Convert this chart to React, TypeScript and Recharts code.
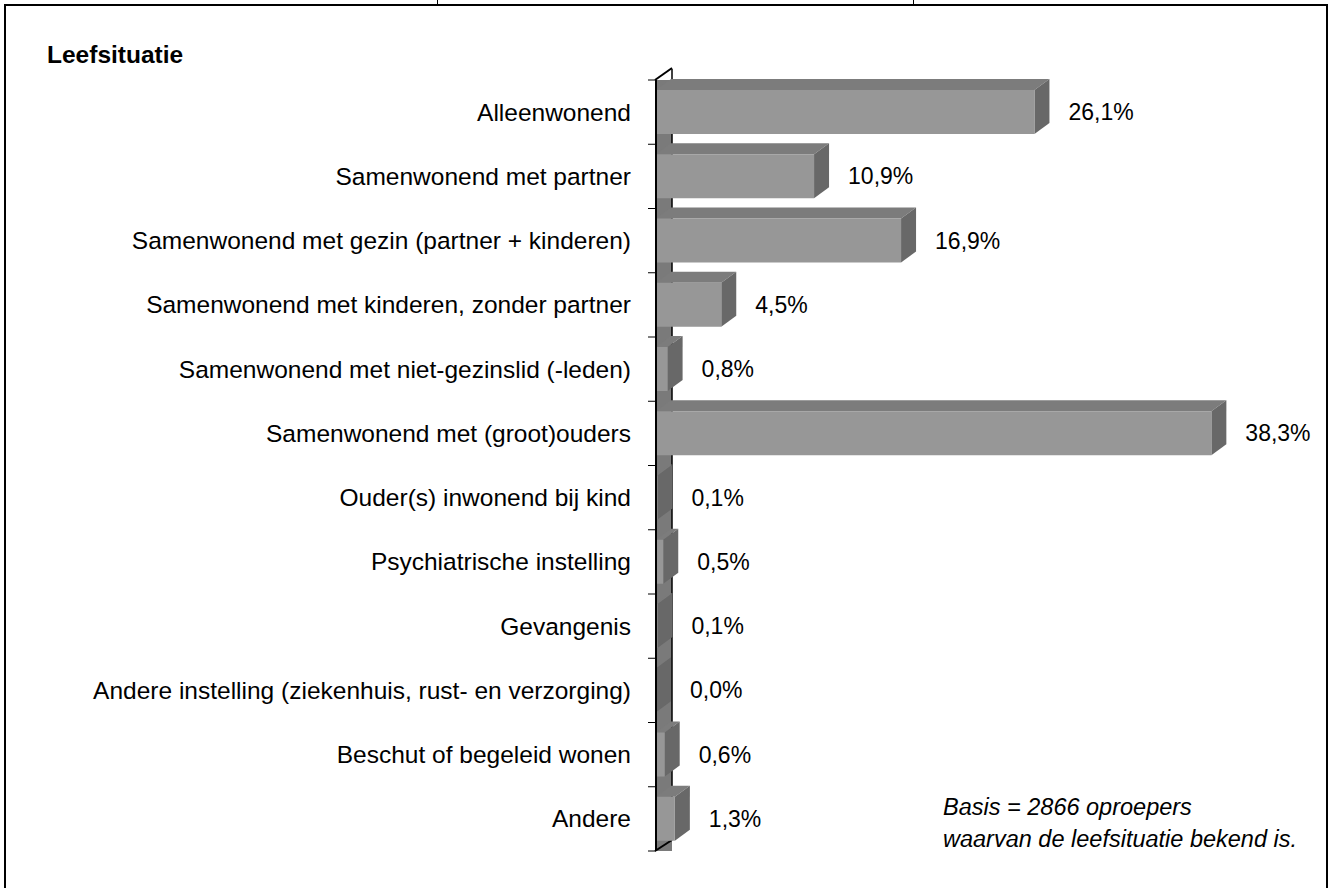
import React from "react";
import { BarChart, Bar, XAxis, YAxis, LabelList } from "recharts";

// Leefsituatie van oproepers (percentages)
const categories = [
  "Alleenwonend",
  "Samenwonend met partner",
  "Samenwonend met gezin (partner + kinderen)",
  "Samenwonend met kinderen, zonder partner",
  "Samenwonend met niet-gezinslid (-leden)",
  "Samenwonend met (groot)ouders",
  "Ouder(s) inwonend bij kind",
  "Psychiatrische instelling",
  "Gevangenis",
  "Andere instelling (ziekenhuis, rust- en verzorging)",
  "Beschut of begeleid wonen",
  "Andere",
];
const percentages = [26.1, 10.9, 16.9, 4.5, 0.8, 38.3, 0.1, 0.5, 0.1, 0.0, 0.6, 1.3];
const noteLines = ["Basis = 2866 oproepers", "waarvan de leefsituatie bekend is."];

const FONT = "'Liberation Sans', Arial, sans-serif";
const DX = 15; // 3d depth, horizontal
const DY = 11; // 3d depth, vertical

const FRONT = "#979797";
const TOP = "#7c7c7c";
const SIDE = "#686868";

const chartData = categories.map((name, i) => ({ name, value: percentages[i] }));

function Bar3D(props: any) {
  const { x, y, width, height } = props;
  const w = Math.max(width, 0);
  return (
    <g>
      <polygon
        points={`${x},${y} ${x + DX},${y - DY} ${x + w + DX},${y - DY} ${x + w},${y}`}
        fill={TOP}
      />
      <polygon
        points={`${x + w},${y} ${x + w + DX},${y - DY} ${x + w + DX},${y + height - DY} ${x + w},${y + height}`}
        fill={SIDE}
      />
      <rect x={x} y={y} width={w} height={height} fill={FRONT} />
    </g>
  );
}

function ValueLabel(props: any) {
  const { x, y, width, height, value } = props;
  return (
    <text
      x={x + width + DX + 19}
      y={y + height / 2}
      dominantBaseline="central"
      fontFamily={FONT}
      fontSize={23}
      fill="#000"
    >
      {Number(value).toFixed(1).replace(".", ",") + "%"}
    </text>
  );
}

function CategoryTick(props: any) {
  const { x, y, payload } = props;
  return (
    <text
      x={x}
      y={y}
      textAnchor="end"
      dominantBaseline="central"
      fontFamily={FONT}
      fontSize={24.5}
      fill="#000"
    >
      {payload.value}
    </text>
  );
}

const W = 1330;
const H = 888;
const TOP_M = 80;
const BOTTOM_M = 37;
const AXIS_X = 656;

// wall strip + boundary ticks behind the bars
function Wall() {
  const band = (H - TOP_M - BOTTOM_M) / categories.length;
  const ticks = Array.from({ length: categories.length + 1 }, (_, i) => TOP_M + i * band);
  return (
    <svg width={W} height={H} style={{ position: "absolute", left: 0, top: 0 }}>
      <rect x={AXIS_X} y={TOP_M} width={DX + 1} height={H - TOP_M - BOTTOM_M} fill="#7a7a7a" />
      <line x1={AXIS_X + DX + 1} y1={TOP_M - DY} x2={AXIS_X + DX + 1} y2={H - BOTTOM_M - DY} stroke="#000" strokeWidth={1.5} />
      <line x1={AXIS_X - 1} y1={TOP_M} x2={AXIS_X + DX + 1} y2={TOP_M - DY - 1} stroke="#000" strokeWidth={2} />
      <line x1={AXIS_X - 1} y1={H - BOTTOM_M} x2={AXIS_X + DX + 1} y2={H - BOTTOM_M - DY} stroke="#000" strokeWidth={2} />
      {ticks.map((t) => (
        <line key={t} x1={AXIS_X - 8} y1={t} x2={AXIS_X} y2={t} stroke="#000" strokeWidth={1} />
      ))}
    </svg>
  );
}

export default function App() {
  return (
    <div style={{ position: "absolute", left: 0, top: 0, width: W, height: H, background: "#fff" }}>
      <Wall />
      <div style={{ position: "absolute", left: 0, top: 0 }}>
        <BarChart
          width={W}
          height={H}
          data={chartData}
          layout="vertical"
          margin={{ top: TOP_M, right: 94, bottom: BOTTOM_M, left: 0 }}
        >
          <XAxis type="number" domain={[0, 40]} hide />
          <YAxis
            type="category"
            dataKey="name"
            width={AXIS_X}
            axisLine={{ stroke: "#000", strokeWidth: 2 }}
            tickLine={false}
            tickSize={0}
            tickMargin={25}
            tick={<CategoryTick />}
            interval={0}
          />
          <Bar dataKey="value" barSize={44} shape={<Bar3D />} isAnimationActive={false}>
            <LabelList dataKey="value" content={<ValueLabel />} />
          </Bar>
        </BarChart>
      </div>

      {/* table frame */}
      <div style={{ position: "absolute", left: 4, top: 4, width: 1323, height: 2, background: "#000" }} />
      <div style={{ position: "absolute", left: 4, top: 4, width: 2, height: H - 4, background: "#000" }} />
      <div style={{ position: "absolute", left: 1326, top: 4, width: 2, height: H - 4, background: "#000" }} />
      <div style={{ position: "absolute", left: 437, top: 0, width: 1, height: 5, background: "#000" }} />
      <div style={{ position: "absolute", left: 913, top: 0, width: 1, height: 5, background: "#000" }} />

      <div
        style={{
          position: "absolute",
          left: 47,
          top: 40,
          fontFamily: FONT,
          fontWeight: "bold",
          fontSize: 24.5,
          lineHeight: "30px",
        }}
      >
        Leefsituatie
      </div>

      <div
        style={{
          position: "absolute",
          left: 943,
          top: 791,
          fontFamily: FONT,
          fontStyle: "italic",
          fontSize: 23.5,
          lineHeight: "32px",
        }}
      >
        {noteLines.map((l) => (
          <div key={l}>{l}</div>
        ))}
      </div>
    </div>
  );
}
